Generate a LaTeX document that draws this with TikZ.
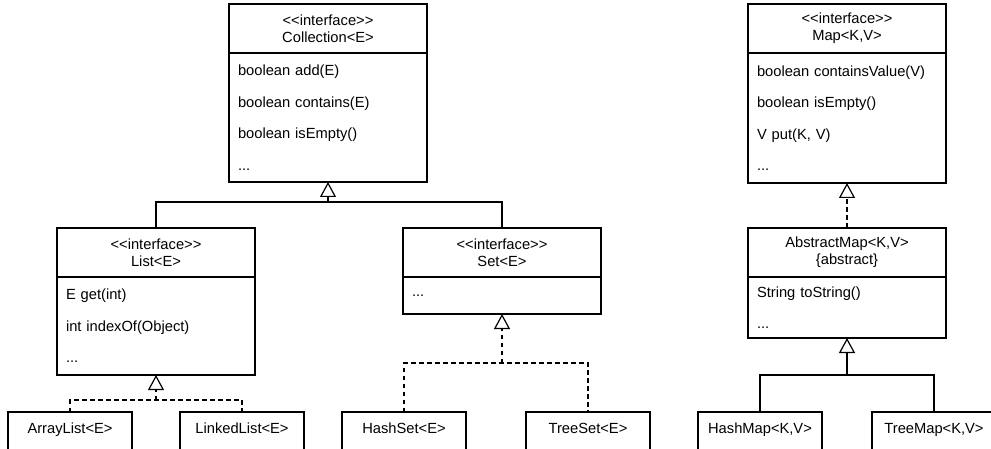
\documentclass[tikz,border=0pt]{standalone}
\usepackage{fontspec}
\setmainfont{Liberation Sans}
\usetikzlibrary{positioning,arrows.meta}
\newcommand{\iface}{<\kern0pt<interface>\kern0pt>}

\begin{document}
\begin{tikzpicture}[
  x=1pt, y=-1pt,
  every node/.style={font=\fontsize{14.7}{17}\selectfont},
  head/.style={draw=black, line width=1.2pt, align=center, minimum width=198pt, minimum height=49pt, inner sep=0pt, outer sep=0pt, anchor=north west},
  members/.style={draw=black, line width=1.2pt, align=left, text width=180pt, inner xsep=9pt, inner ysep=0pt, outer sep=0pt, font=\fontsize{14.7}{31.5}\selectfont},
  leaf/.style={draw=black, line width=1.2pt, minimum width=124pt, minimum height=40pt, text height=10.5pt, text depth=8pt, inner sep=0pt, outer sep=0pt, anchor=north west},
  line/.style={draw=black, line width=1.2pt},
  dline/.style={line, dash pattern=on 4.5pt off 3.5pt},
  gen/.style={line, -{Triangle[open, length=15pt, width=16pt]}},
  real/.style={gen, dash pattern=on 4.5pt off 3.5pt}
]
\useasboundingbox (0,0) rectangle (991,449);
\clip (0,0) rectangle (991,449);

% Collection branch
\node[head] (coll) at (229,4) {\iface\\Collection<E>};
\node[members, below=0pt of coll, minimum height=129pt] (collm) {boolean add(E)\\boolean contains(E)\\boolean isEmpty()\\...};

\node[head] (list) at (57,228) {\iface\\List<E>};
\node[members, below=0pt of list, minimum height=98pt] (listm) {E get(int)\\int indexOf(Object)\\...};

\node[head] (set) at (403,228) {\iface\\Set<E>};
\node[members, below=0pt of set, minimum height=37pt] (setm) {...};

\node[leaf] (arr) at (8,412) {ArrayList<E>};
\node[leaf] (lnk) at (180,412) {LinkedList<E>};
\node[leaf] (hset) at (342,412) {HashSet<E>};
\node[leaf] (tset) at (526,412) {TreeSet<E>};

% Map branch
\node[head] (map) at (748,4) {\iface\\Map<K,V>};
\node[members, below=0pt of map, minimum height=130pt] (mapm) {boolean containsValue(V)\\boolean isEmpty()\\V put(K, V)\\...};

\node[head] (abs) at (748,228) {AbstractMap<K,V>\\\{abstract\}};
\node[members, below=0pt of abs, minimum height=61pt] (absm) {String toString()\\...};

\node[leaf] (hmap) at (698,412) {HashMap<K,V>};
\node[leaf] (tmap) at (872,412) {TreeMap<K,V>};

% Connections
\coordinate (j1) at ([yshift=-20pt]collm.south);
\draw[line] (list.north) |- (j1) -| (set.north);
\draw[gen] (j1) -- (collm.south);

\coordinate (j2) at ([yshift=-25pt]listm.south);
\draw[dline] (arr.north) |- (j2) -| (lnk.north);
\draw[real] (j2) -- (listm.south);

\coordinate (j3) at ([yshift=-49pt]setm.south);
\draw[dline] (hset.north) |- (j3) -| (tset.north);
\draw[real] (j3) -- (setm.south);

\draw[real] (abs.north) -- (mapm.south);

\coordinate (j4) at ([yshift=-37pt]absm.south);
\draw[line] (hmap.north) |- (j4) -| (tmap.north);
\draw[gen] (j4) -- (absm.south);
\end{tikzpicture}
\end{document}
